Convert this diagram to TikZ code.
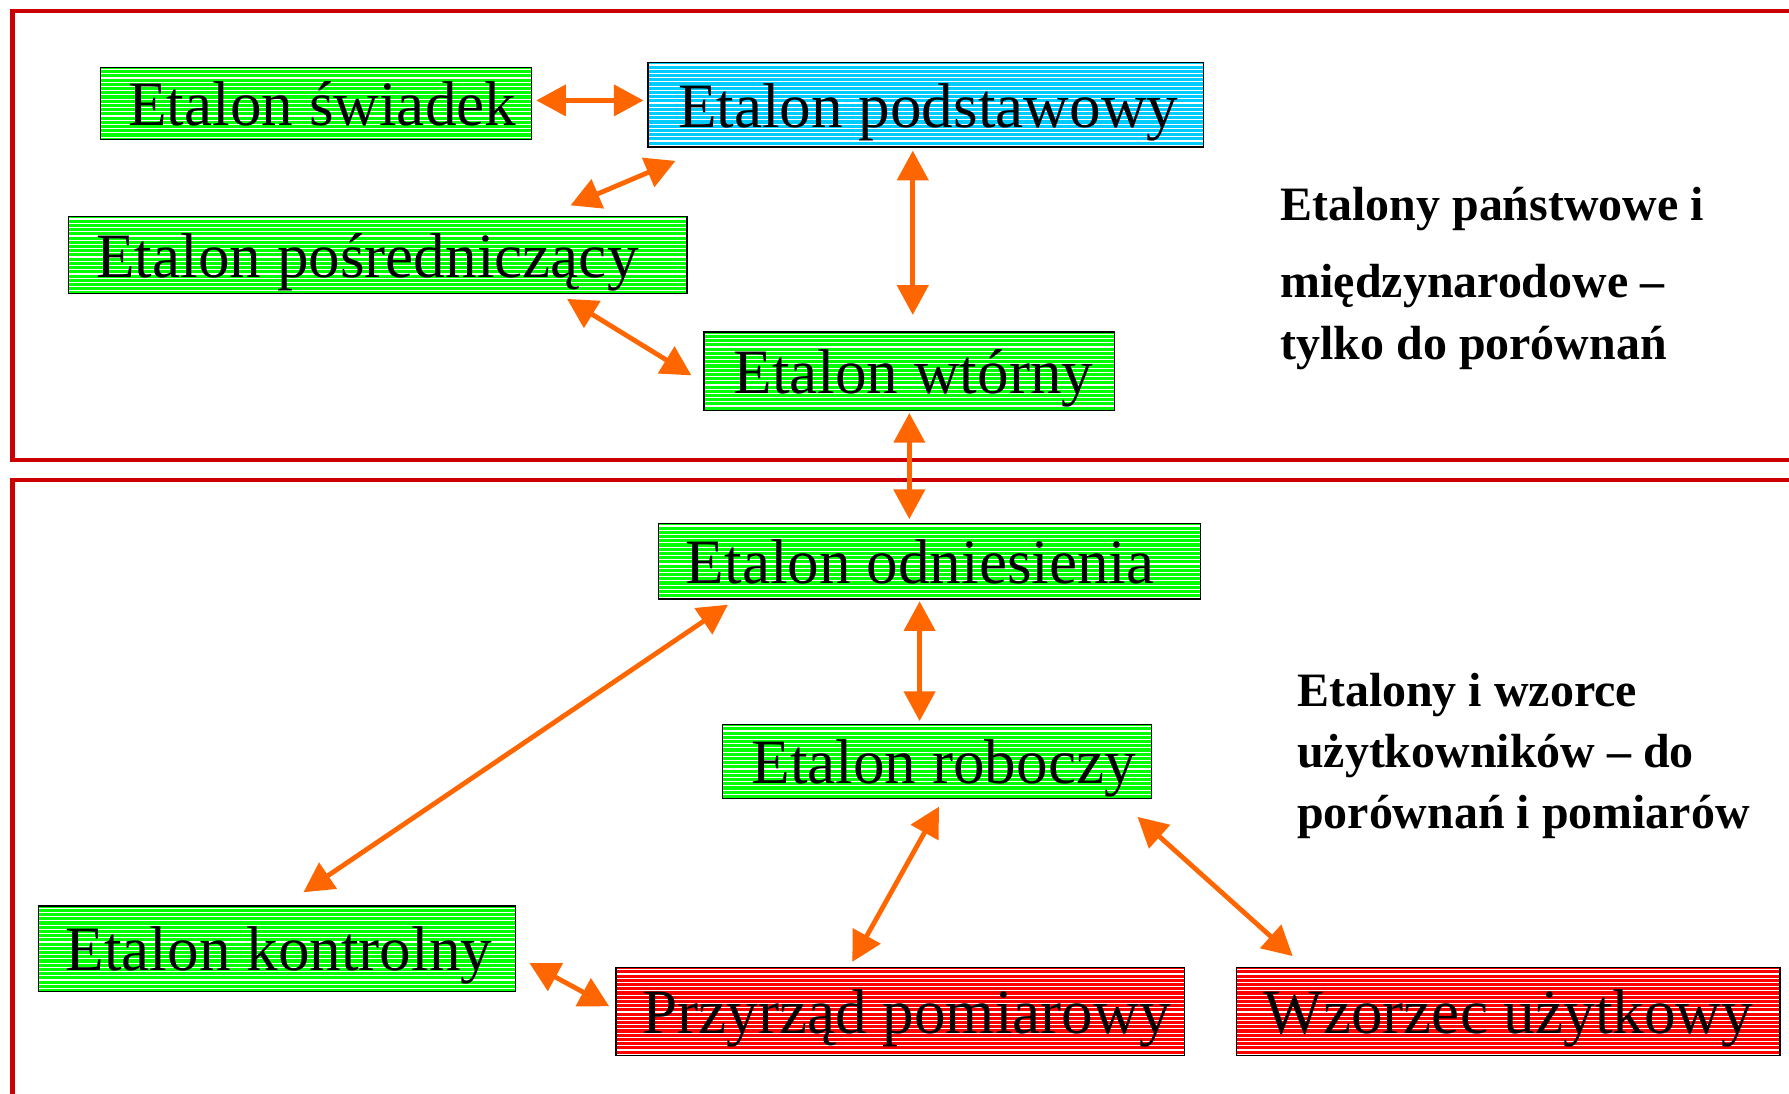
\documentclass[tikz,border=0pt]{standalone}
\usepackage{fontspec}
\setmainfont{Liberation Serif}
\usetikzlibrary{arrows.meta}
\definecolor{boxgreen}{HTML}{00FF00}
\definecolor{boxcyan}{HTML}{00CCFF}
\definecolor{boxred}{HTML}{FF0000}
\definecolor{arrorange}{HTML}{FF6600}
\definecolor{framered}{HTML}{CC0000}
\tikzset{
  hatchbox/.style={draw=black, line width=0.6pt, inner sep=0pt,
    font=\fontsize{27.7}{30}\selectfont, text height=19.5pt, text depth=0pt,
    path picture={
      \foreach \k in {0,...,24}
        \draw[white, line width=0.5pt]
          ([yshift=-\k*1.85pt-1pt]path picture bounding box.north west) --
          ([yshift=-\k*1.85pt-1pt]path picture bounding box.north east);
    }},
  gbox/.style={hatchbox, fill=boxgreen},
  cbox/.style={hatchbox, fill=boxcyan},
  rbox/.style={hatchbox, fill=boxred},
  arr/.style={draw=arrorange, line width=2.1pt,
    {Triangle[length=13pt,width=13.5pt]}-{Triangle[length=13pt,width=13.5pt]}},
  frame/.style={draw=framered, line width=1.8pt},
  note/.style={anchor=base west, inner sep=0pt, font=\fontsize{21}{27}\selectfont\bfseries}
}
\begin{document}
\begin{tikzpicture}[x=0.5pt, y=-0.5pt]
\useasboundingbox (0,0) rectangle (1568,958);
% frames
\draw[frame] (1570,10) -| (11,403) -- (1570,403);
\draw[frame] (1570,421) -| (11,960);
% boxes
\node[gbox, minimum width=189pt, minimum height=31.5pt] (sw) at (277,90.5) {\hspace*{5.5pt}Etalon świadek};
\node[cbox, minimum width=243.5pt, minimum height=37pt] (pod) at (811.5,92) {\hspace*{2pt}Etalon podstawowy};
\node[gbox, minimum width=271pt, minimum height=33.5pt] (pos) at (331,223.5) {Etalon pośredniczący\hspace*{9pt}};
\node[gbox, minimum width=180pt, minimum height=34.5pt] (wto) at (797,325.5) {\hspace*{3.5pt}Etalon wtórny};
\node[gbox, minimum width=237.5pt, minimum height=33pt] (odn) at (814.5,492) {Etalon odniesienia\hspace*{8pt}};
\node[gbox, minimum width=188pt, minimum height=32.5pt] (rob) at (821,667.5) {\hspace*{6pt}Etalon roboczy};
\node[gbox, minimum width=209pt, minimum height=37.5pt] (kon) at (243,831.5) {\hspace*{1.5pt}Etalon kontrolny};
\node[rbox, minimum width=249pt, minimum height=38.5pt] (prz) at (789,886.5) {\hspace*{5.5pt}Przyrząd pomiarowy};
\node[rbox, minimum width=238pt, minimum height=38.5pt] (wzo) at (1322,886.5) {Wzorzec użytkowy};
% notes
\node[note] (n1a) at (1122,193) {Etalony państwowe i};
\node[note] (n1b) at (1122,261) {międzynarodowe –};
\node[note] (n1c) at (1122,315) {tylko do porównań};
\node[note] (n2a) at (1136.5,619.5) {Etalony i wzorce};
\node[note] (n2b) at (1136.5,673) {użytkowników – do};
\node[note] (n2c) at (1136.5,726) {porównań i pomiarów};
% arrow end points
\coordinate (swR) at (470,88);   \coordinate (podL) at (564,88);
\coordinate (posT) at (500,180); \coordinate (podSW) at (592,141);
\coordinate (podS) at (800,132); \coordinate (wtoN) at (800,276);
\coordinate (posB) at (497,262); \coordinate (wtoW) at (606,329);
\coordinate (wtoS) at (797,362); \coordinate (odnN) at (797,455);
\coordinate (odnSW) at (638,530); \coordinate (konN) at (266,782);
\coordinate (odnS) at (806,527); \coordinate (robN) at (806,632);
\coordinate (robS) at (823,707); \coordinate (przN) at (747,843);
\coordinate (robSE) at (997,716); \coordinate (wzoN) at (1133,838);
\coordinate (konE) at (464,844); \coordinate (przW) at (534,882);
% arrows
\draw[arr] (swR) -- (podL);
\draw[arr] (posT) -- (podSW);
\draw[arr] (podS) -- (wtoN);
\draw[arr] (posB) -- (wtoW);
\draw[arr] (wtoS) -- (odnN);
\draw[arr] (odnSW) -- (konN);
\draw[arr] (odnS) -- (robN);
\draw[arr] (robS) -- (przN);
\draw[arr] (robSE) -- (wzoN);
\draw[arr] (konE) -- (przW);
\end{tikzpicture}
\end{document}
